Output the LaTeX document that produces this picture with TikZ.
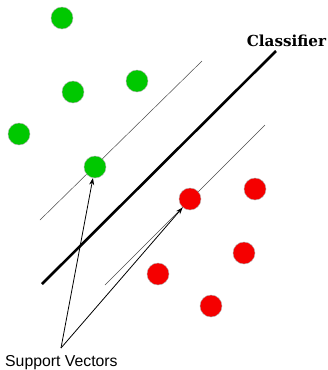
\documentclass[tikz,border=0pt]{standalone}
\usepackage{fontspec}
\setmainfont{DejaVu Serif}
\newfontfamily\labelsans{Liberation Sans}
\usetikzlibrary{arrows.meta}
\definecolor{dotgreen}{RGB}{0,200,0}
\definecolor{dotred}{RGB}{245,0,0}
\begin{document}
\begin{tikzpicture}[x=1pt,y=-1pt,
  gdot/.style={circle,fill=dotgreen,draw=gray!60,line width=0.4pt,minimum size=22pt,inner sep=0pt},
  rdot/.style={circle,fill=dotred,draw=gray!60,line width=0.4pt,minimum size=22pt,inner sep=0pt},
  margin/.style={draw=black!70,line width=0.5pt},
  sv/.style={draw=black,line width=0.8pt,-{Stealth[length=7pt,width=5pt]}}]
\useasboundingbox[fill=white] (0,0) rectangle (328,370);
% margins and classifier
\coordinate (ua) at (202,61);
\coordinate (ub) at (40,220);
\coordinate (la) at (265,125);
\coordinate (lb) at (105,285);
\coordinate (ca) at (276,51);
\coordinate (cb) at (42,284);
\draw[margin] (ua) -- (ub);
\draw[margin] (la) -- (lb);
\draw[line width=2.6pt] (ca) -- (cb);
% dots
\node[gdot] (g1) at (62,18) {};
\node[gdot] (g2) at (73,92) {};
\node[gdot] (g3) at (137,81) {};
\node[gdot] (g4) at (19,134) {};
\node[gdot] (g5) at (95,167) {};
\node[rdot] (r1) at (190,199) {};
\node[rdot] (r2) at (255,189) {};
\node[rdot] (r3) at (244,253) {};
\node[rdot] (r4) at (158,274) {};
\node[rdot] (r5) at (211,306) {};
% labels
\node[font=\bfseries\fontsize{15.2}{17}\selectfont,anchor=base,inner sep=0pt] (cl) at (286.5,46) {Classifier};
\node[font=\labelsans\fontsize{15.8}{18}\selectfont,anchor=base west,inner sep=0pt] (svl) at (5,366) {Support Vectors};
\coordinate (apex) at (61,348);
\draw[sv] (apex) -- (g5);
\draw[sv] (apex) -- (r1);
\end{tikzpicture}
\end{document}
